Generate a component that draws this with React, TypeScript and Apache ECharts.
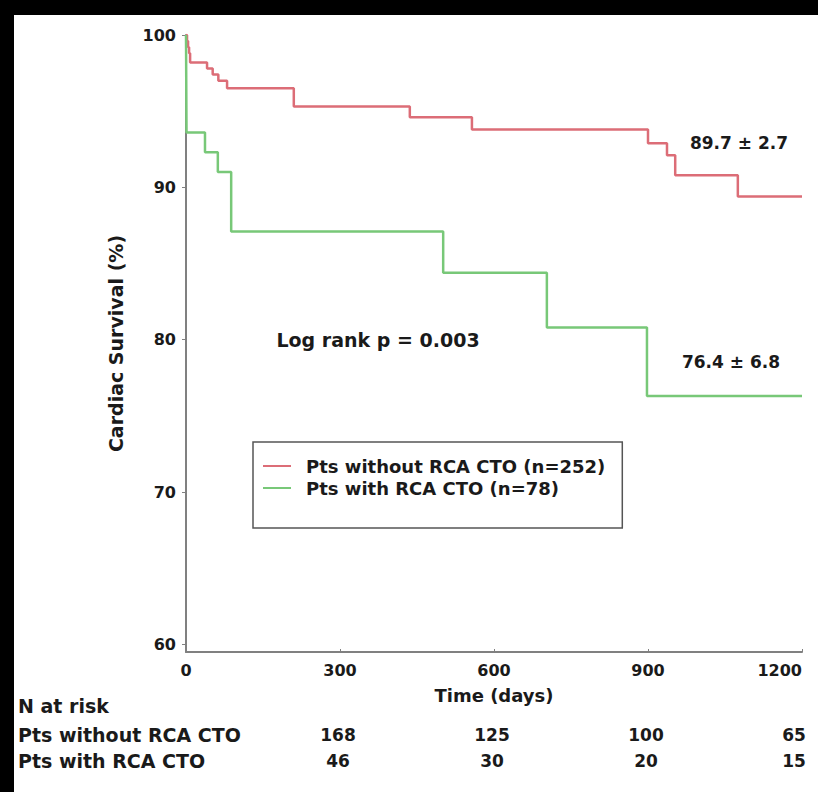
import React, { useEffect, useRef } from "react";
import * as echarts from "echarts";

const redName = "Pts without RCA CTO (n=252)";
const greenName = "Pts with RCA CTO (n=78)";
const redDays = [0, 2, 4, 6, 8, 41, 52, 63, 80, 210, 436, 557, 900, 937, 953, 1075, 1200];
const redSurv = [100, 99.6, 99.2, 98.8, 98.2, 97.8, 97.4, 97.0, 96.5, 95.3, 94.6, 93.8, 92.9, 92.1, 90.8, 89.4, 89.4];
const greenDays = [0, 1, 37, 62, 88, 501, 703, 898, 1200];
const greenSurv = [100, 93.6, 92.3, 91.0, 87.1, 84.4, 80.8, 76.3, 76.3];
const yTicks = [60, 70, 80, 90, 100];
const riskTimes = [300, 600, 900, 1200];
const riskWithout = [168, 125, 100, 65];
const riskWith = [46, 30, 20, 15];
const riskRowLabels = ["Pts without RCA CTO", "Pts with RCA CTO"];

const FONT = "DejaVu Sans";
const TXT = "#1a1a1a";

export default function App() {
  const ref = useRef<HTMLDivElement>(null);
  useEffect(() => {
    document.body.style.margin = "0";
    const chart = echarts.init(ref.current!, null, { renderer: "svg" });
    const zip = (xs: number[], ys: number[]) => xs.map((x, i) => [x, ys[i]]);
    chart.setOption({
      animation: false,
      backgroundColor: "transparent",
      grid: { left: 186, right: 16, top: 35, bottom: 140, outerBoundsMode: "none", containLabel: false },
      legend: {
        orient: "vertical",
        left: 253,
        top: 442,
        data: [redName, greenName],
        icon: "rect",
        itemWidth: 28,
        itemHeight: 2,
        itemGap: 4,
        padding: [15, 17, 31, 10],
        borderColor: "#555",
        borderWidth: 1.5,
        backgroundColor: "#fff",
        textStyle: { fontFamily: FONT, fontSize: 18, fontWeight: "bold", color: TXT, padding: [0, 0, 0, 10] },
      },
      xAxis: {
        type: "value",
        min: 0,
        max: 1200,
        interval: 300,
        name: "Time (days)",
        nameLocation: "middle",
        nameGap: 34,
        nameTextStyle: { fontFamily: FONT, fontSize: 18, fontWeight: "bold", color: TXT },
        axisLine: { lineStyle: { color: "#808080", width: 2 } },
        axisTick: { inside: true, length: 3, lineStyle: { color: "#808080" } },
        axisLabel: {
          margin: 10,
          fontFamily: FONT,
          fontSize: 16,
          fontWeight: "bold",
          color: TXT,
          alignMaxLabel: "right",
          formatter: (v: number) => String(v),
        },
        splitLine: { show: false },
      },
      yAxis: {
        type: "value",
        min: 59.5,
        max: 100,
        name: "Cardiac Survival (%)",
        nameLocation: "middle",
        nameRotate: 90,
        nameGap: 61,
        nameTextStyle: { fontFamily: FONT, fontSize: 19, fontWeight: "bold", color: TXT },
        axisLine: { show: true, lineStyle: { color: "#808080", width: 2 } },
        axisTick: { show: true, length: 4, customValues: yTicks, lineStyle: { color: "#808080" } },
        axisLabel: { margin: 10, fontFamily: FONT, fontSize: 16, fontWeight: "bold", color: TXT, customValues: yTicks },
        splitLine: { show: false },
      },
      series: [
        {
          name: redName,
          type: "line",
          step: "end",
          symbol: "none",
          data: zip(redDays, redSurv),
          lineStyle: { color: "#dc6d77", width: 2.5 },
          itemStyle: { color: "#dc6d77" },
        },
        {
          name: greenName,
          type: "line",
          step: "end",
          symbol: "none",
          data: zip(greenDays, greenSurv),
          lineStyle: { color: "#78c878", width: 2.5 },
          itemStyle: { color: "#78c878" },
        },
      ],
    });

    const txt = (text: string, x: number, y: number, size: number, align = "left") => ({
      type: "text",
      x,
      y,
      style: { text, font: `bold ${size}px '${FONT}'`, fill: TXT, align, verticalAlign: "middle" },
    });
    const graphics: any[] = [
      txt("89.7 ± 2.7", 739, 143, 17, "center"),
      txt("76.4 ± 6.8", 731, 362, 17, "center"),
      txt("Log rank p = 0.003", 378, 340, 19, "center"),
      txt("N at risk", 18, 706, 19),
      txt(riskRowLabels[0], 18, 735, 19),
      txt(riskRowLabels[1], 18, 761, 19),
    ];
    riskTimes.forEach((t, i) => {
      const px = Math.min((chart.convertToPixel({ xAxisIndex: 0 }, t) as number) - 2, 794);
      graphics.push(txt(String(riskWithout[i]), px, 735, 17, "center"));
      graphics.push(txt(String(riskWith[i]), px, 761, 17, "center"));
    });
    chart.setOption({ graphic: graphics });
    return () => chart.dispose();
  }, []);
  return (
    <div style={{ position: "relative", width: 818, height: 792, background: "#000", overflow: "hidden" }}>
      <div style={{ position: "absolute", left: 14, top: 15, width: 804, height: 777, background: "#fff" }} />
      <div ref={ref} style={{ position: "absolute", left: 0, top: 0, width: 818, height: 792 }} />
    </div>
  );
}
